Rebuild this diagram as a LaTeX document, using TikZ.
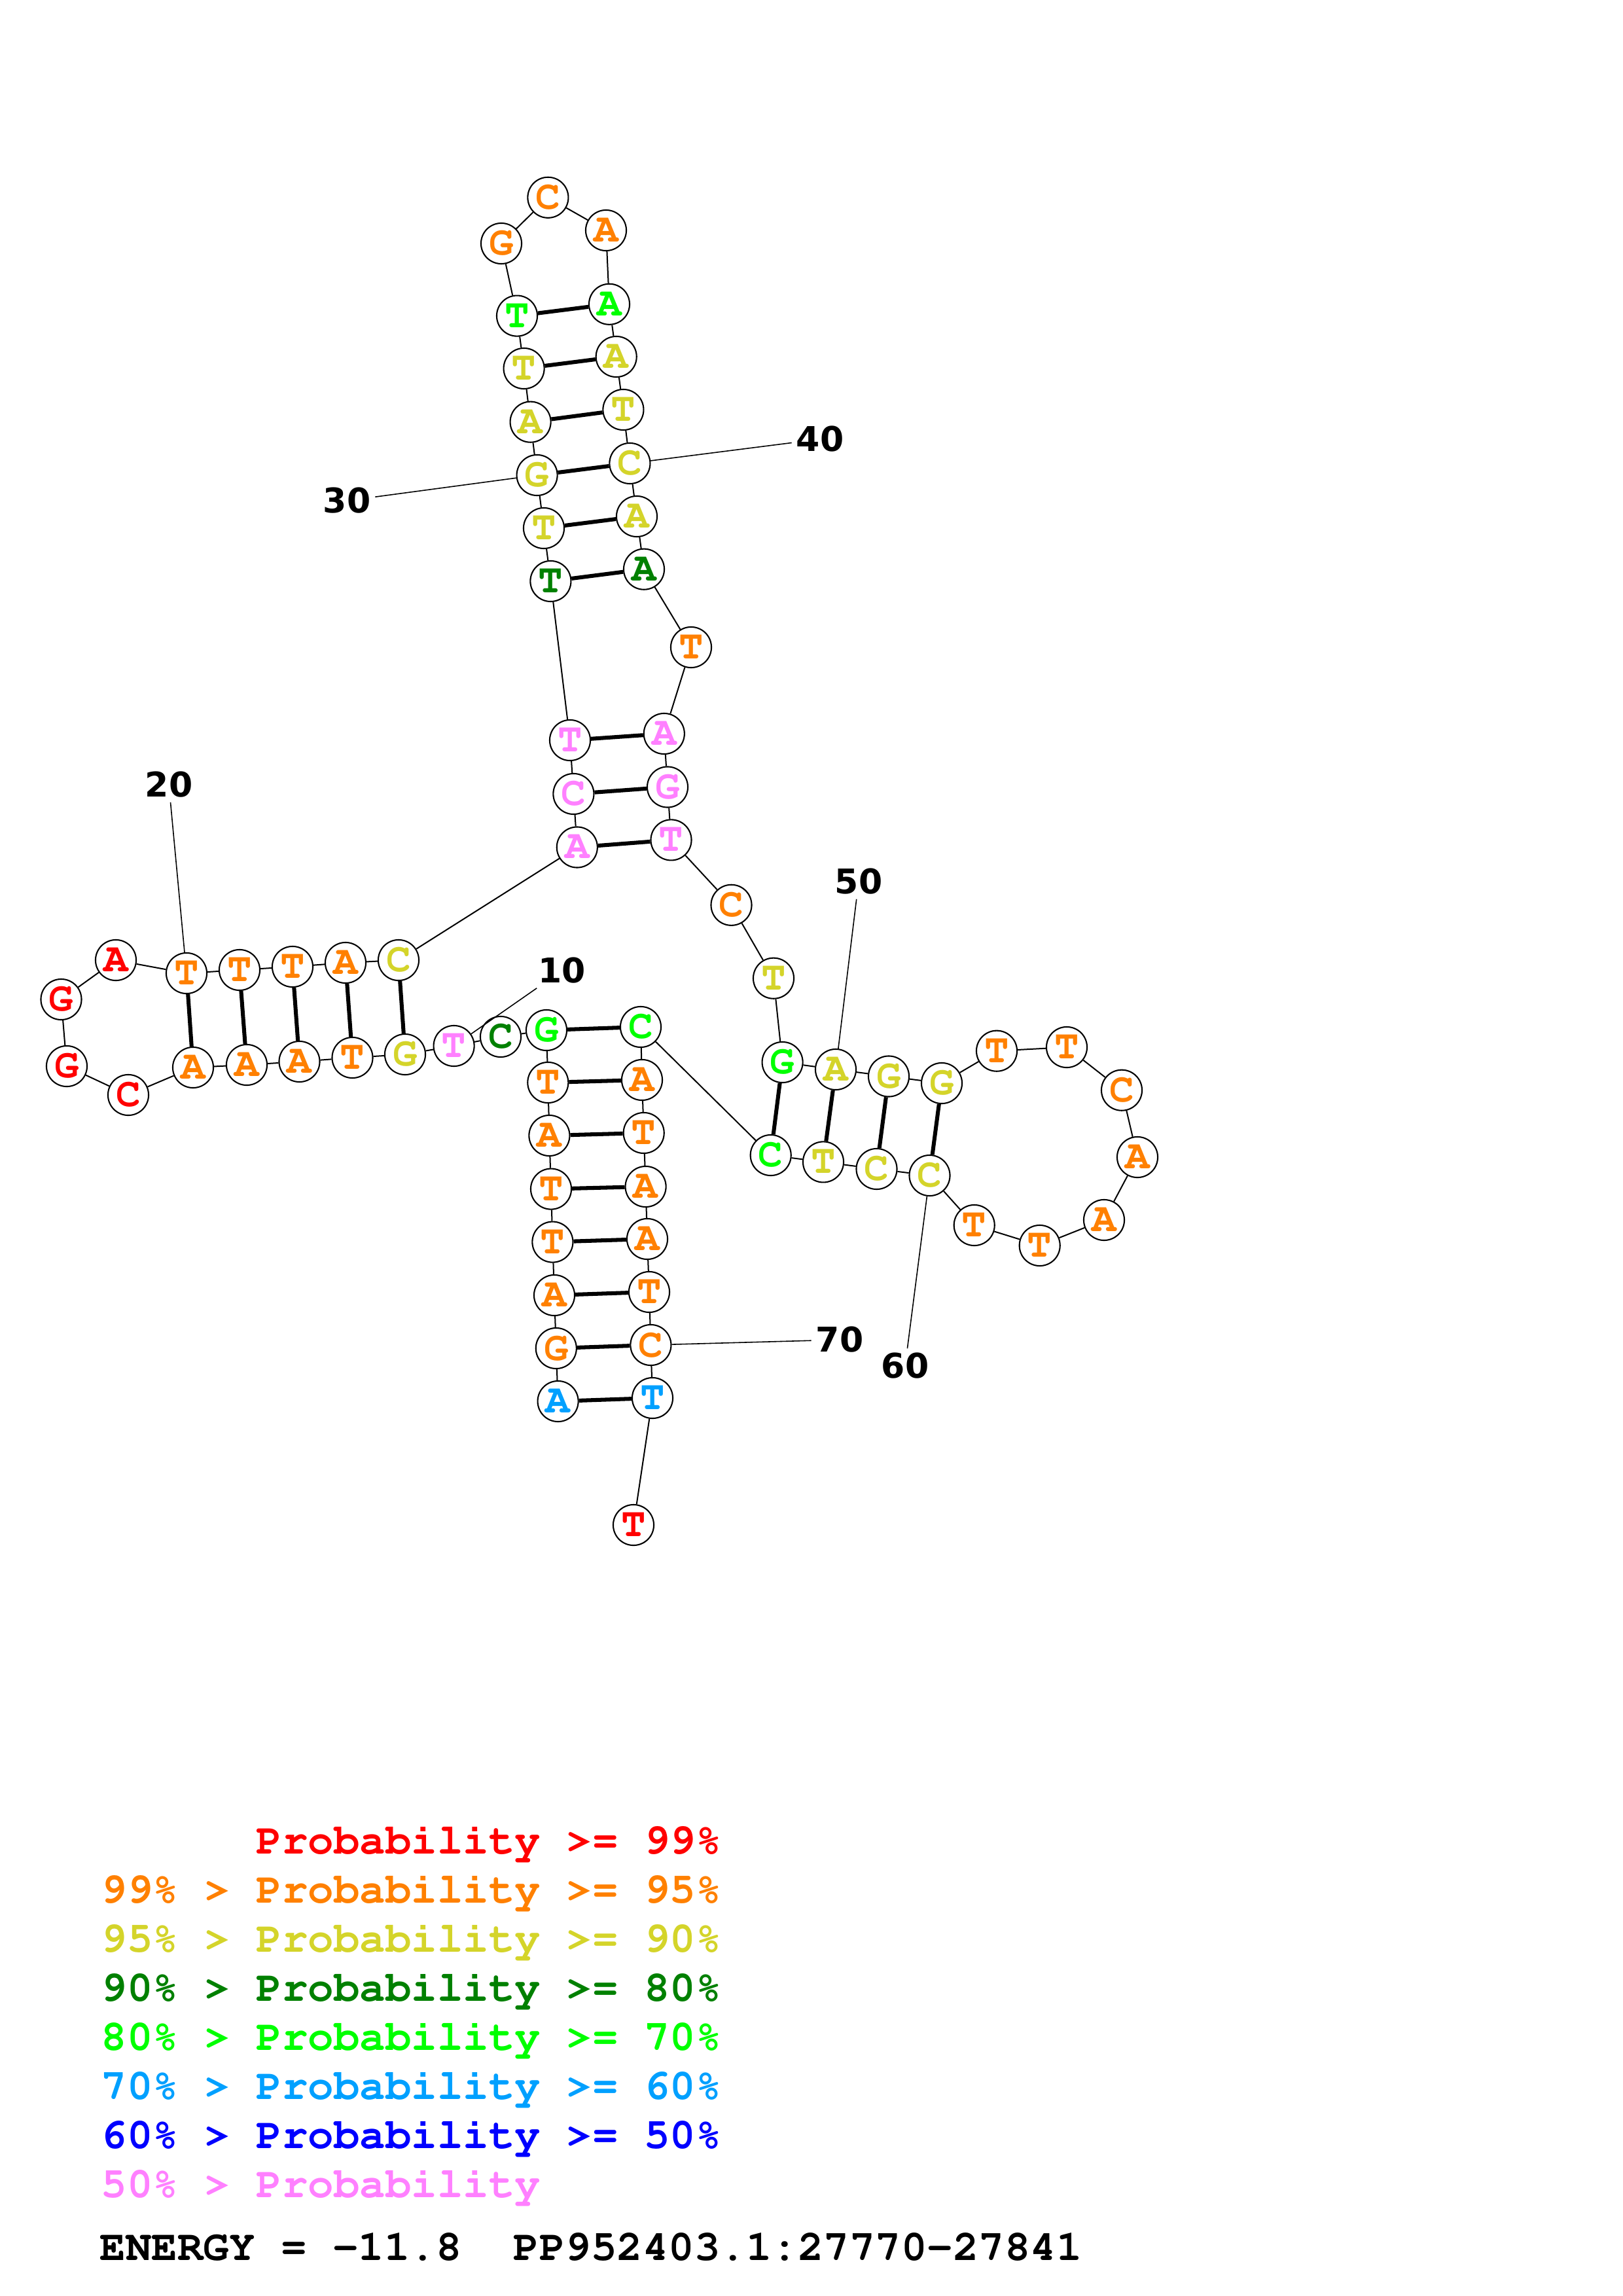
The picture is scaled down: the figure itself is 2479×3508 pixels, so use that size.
\documentclass[tikz,border=0pt]{standalone}
\usepackage{fontspec}
\usepackage[T1,TU]{fontenc}
\usepackage{tikz}

\newfontfamily\numfont{DejaVu Sans}
\newcommand\basefont{\fontencoding{T1}\fontfamily{pcr}\fontseries{b}\selectfont}

\definecolor{c99}{RGB}{255,0,0}
\definecolor{c95}{RGB}{255,128,0}
\definecolor{c90}{RGB}{212,212,42}
\definecolor{c80}{RGB}{0,128,0}
\definecolor{c70}{RGB}{0,255,0}
\definecolor{c60}{RGB}{0,160,255}
\definecolor{c50}{RGB}{0,0,255}
\definecolor{c00}{RGB}{255,128,255}

\tikzset{
  nt/.style={circle, draw, fill=white, line width=0.5pt, inner sep=0pt, minimum size=14.9pt,
    font=\basefont\fontsize{15}{15}\selectfont},
  p99/.style={text=c99}, p95/.style={text=c95}, p90/.style={text=c90}, p80/.style={text=c80},
  p70/.style={text=c70}, p60/.style={text=c60}, p50/.style={text=c50}, p00/.style={text=c00},
  chain/.style={line width=0.48pt},
  bond/.style={line width=1.45pt},
  tick/.style={line width=0.38pt},
  numlbl/.style={inner sep=1.5pt, font=\numfont\bfseries\fontsize{12.5}{12.5}\selectfont},
  legend/.style={anchor=base west, inner sep=0pt, font=\basefont\fontsize{15.8}{16}\selectfont}
}

\begin{document}
\begin{tikzpicture}[x=0.24pt,y=0.24pt,yscale=-1,xscale=1]
\useasboundingbox (0,0) rectangle (2479,3508); %A4 page, 2479 x 3508

% Bases, 5' end at the bottom stem
\node[nt,p60] (n1) at (852.6,2141) {A};
\node[nt,p95] (n2) at (849.8,2060) {G};
\node[nt,p95] (n3) at (847,1979) {A};
\node[nt,p95] (n4) at (844.4,1897.6) {T};
\node[nt,p95] (n5) at (842,1816.6) {T};
\node[nt,p95] (n6) at (839.4,1735) {A};
\node[nt,p95] (n7) at (837.3,1654) {T};
\node[nt,p70] (n8) at (835,1574) {G};
\node[nt,p80] (n9) at (765,1584) {C};
\node[nt,p00] (n10) at (693.6,1598) {T};
\node[nt,p90] (n11) at (619,1611) {G};
\node[nt,p95] (n12) at (538.5,1616) {T};
\node[nt,p95] (n13) at (457.5,1622) {A};
\node[nt,p95] (n14) at (377,1627) {A};
\node[nt,p95] (n15) at (295,1631) {A};
\node[nt,p99] (n16) at (196,1673) {C};
\node[nt,p99] (n17) at (102,1629) {G};
\node[nt,p99] (n18) at (93.5,1527) {G};
\node[nt,p99] (n19) at (177,1467) {A};
\node[nt,p95] (n20) at (285,1487) {T};
\node[nt,p95] (n21) at (366,1482) {T};
\node[nt,p95] (n22) at (447,1477) {T};
\node[nt,p95] (n23) at (528,1471) {A};
\node[nt,p90] (n24) at (609,1467) {C};
\node[nt,p00] (n25) at (881.8,1294.5) {A};
\node[nt,p00] (n26) at (876.4,1213) {C};
\node[nt,p00] (n27) at (871,1131) {T};
\node[nt,p80] (n28) at (841.4,888) {T};
\node[nt,p90] (n29) at (831,807) {T};
\node[nt,p90] (n30) at (820.6,726) {G};
\node[nt,p90] (n31) at (810.6,644.7) {A};
\node[nt,p90] (n32) at (800.6,563) {T};
\node[nt,p70] (n33) at (790,482.6) {T};
\node[nt,p95] (n34) at (766,372) {G};
\node[nt,p95] (n35) at (837.4,301.8) {C};
\node[nt,p95] (n36) at (926,352) {A};
\node[nt,p70] (n37) at (931,464.8) {A};
\node[nt,p90] (n38) at (941.7,545) {A};
\node[nt,p90] (n39) at (952.4,626) {T};
\node[nt,p90] (n40) at (962.4,708) {C};
\node[nt,p90] (n41) at (973,789) {A};
\node[nt,p80] (n42) at (984,869.7) {A};
\node[nt,p95] (n43) at (1056,989) {T};
\node[nt,p00] (n44) at (1014.8,1121) {A};
\node[nt,p00] (n45) at (1020,1202.5) {G};
\node[nt,p00] (n46) at (1025.5,1283.4) {T};
\node[nt,p95] (n47) at (1117.5,1382.8) {C};
\node[nt,p90] (n48) at (1182,1494.7) {T};
\node[nt,p70] (n49) at (1195.6,1623) {G};
\node[nt,p90] (n50) at (1277,1634) {A};
\node[nt,p90] (n51) at (1358,1644.5) {G};
\node[nt,p90] (n52) at (1439,1655) {G};
\node[nt,p95] (n53) at (1523,1605.7) {T};
\node[nt,p95] (n54) at (1630,1600) {T};
\node[nt,p95] (n55) at (1714,1665.7) {C};
\node[nt,p95] (n56) at (1738,1768) {A};
\node[nt,p95] (n57) at (1687,1864) {A};
\node[nt,p95] (n58) at (1588.7,1903) {T};
\node[nt,p95] (n59) at (1488.7,1872) {T};
\node[nt,p90] (n60) at (1420.5,1796) {C};
\node[nt,p90] (n61) at (1339.5,1786) {C};
\node[nt,p90] (n62) at (1258,1775.4) {T};
\node[nt,p70] (n63) at (1177.7,1765) {C};
\node[nt,p70] (n64) at (979,1569) {C};
\node[nt,p95] (n65) at (981,1650) {A};
\node[nt,p95] (n66) at (983.7,1731) {T};
\node[nt,p95] (n67) at (986.6,1813) {A};
\node[nt,p95] (n68) at (989,1893) {A};
\node[nt,p95] (n69) at (992,1974) {T};
\node[nt,p95] (n70) at (994.4,2055) {C};
\node[nt,p60] (n71) at (997,2136) {T};
\node[nt,p99] (n72) at (968,2330) {T};

%Straight Lines, backbone
\draw[chain] (n1) -- (n2) -- (n3) -- (n4) -- (n5) -- (n6) -- (n7) -- (n8) -- (n9) -- (n10)
  -- (n11) -- (n12) -- (n13) -- (n14) -- (n15) -- (n16) -- (n17) -- (n18) -- (n19) -- (n20)
  -- (n21) -- (n22) -- (n23) -- (n24) -- (n25) -- (n26) -- (n27) -- (n28) -- (n29) -- (n30)
  -- (n31) -- (n32) -- (n33) -- (n34) -- (n35) -- (n36) -- (n37) -- (n38) -- (n39) -- (n40)
  -- (n41) -- (n42) -- (n43) -- (n44) -- (n45) -- (n46) -- (n47) -- (n48) -- (n49) -- (n50)
  -- (n51) -- (n52) -- (n53) -- (n54) -- (n55) -- (n56) -- (n57) -- (n58) -- (n59) -- (n60)
  -- (n61) -- (n62) -- (n63) -- (n64) -- (n65) -- (n66) -- (n67) -- (n68) -- (n69) -- (n70)
  -- (n71) -- (n72);

%Straight Lines, base pairs
\draw[bond] (n1) -- (n71);
\draw[bond] (n2) -- (n70);
\draw[bond] (n3) -- (n69);
\draw[bond] (n4) -- (n68);
\draw[bond] (n5) -- (n67);
\draw[bond] (n6) -- (n66);
\draw[bond] (n7) -- (n65);
\draw[bond] (n8) -- (n64);
\draw[bond] (n11) -- (n24);
\draw[bond] (n12) -- (n23);
\draw[bond] (n13) -- (n22);
\draw[bond] (n14) -- (n21);
\draw[bond] (n15) -- (n20);
\draw[bond] (n25) -- (n46);
\draw[bond] (n26) -- (n45);
\draw[bond] (n27) -- (n44);
\draw[bond] (n28) -- (n42);
\draw[bond] (n29) -- (n41);
\draw[bond] (n30) -- (n40);
\draw[bond] (n31) -- (n39);
\draw[bond] (n32) -- (n38);
\draw[bond] (n33) -- (n37);
\draw[bond] (n49) -- (n63);
\draw[bond] (n50) -- (n62);
\draw[bond] (n51) -- (n61);
\draw[bond] (n52) -- (n60);

% Text Node, position numbers
\node[numlbl] (l10) at (858.6,1483) {10};
\node[numlbl] (l20) at (258,1199) {20};
\node[numlbl] (l30) at (530,765) {30};
\node[numlbl] (l40) at (1253,671) {40};
\node[numlbl] (l50) at (1312,1347) {50};
\node[numlbl] (l60) at (1383,2087) {60};
\node[numlbl] (l70) at (1283,2047) {70};
\draw[tick] (l10) -- (n10);
\draw[tick] (l20) -- (n20);
\draw[tick] (l30) -- (n30);
\draw[tick] (l40) -- (n40);
\draw[tick] (l50) -- (n50);
\draw[tick] (l60) -- (n60);
\draw[tick] (l70) -- (n70);

% Text Node, legend
\node[legend,p99] (leg1) at (391,2832) {Probability >= 99\%};
\node[legend,p95] (leg2) at (154,2907) {99\% > Probability >= 95\%};
\node[legend,p90] (leg3) at (154,2982) {95\% > Probability >= 90\%};
\node[legend,p80] (leg4) at (154,3057) {90\% > Probability >= 80\%};
\node[legend,p70] (leg5) at (154,3132) {80\% > Probability >= 70\%};
\node[legend,p60] (leg6) at (154,3207) {70\% > Probability >= 60\%};
\node[legend,p50] (leg7) at (154,3282) {60\% > Probability >= 50\%};
\node[legend,p00] (leg8) at (154,3357) {50\% > Probability};
% Text Node
\node[legend] (energy) at (152,3453) {ENERGY = -11.8\ \ PP952403.1:27770-27841};

\end{tikzpicture}
\end{document}
